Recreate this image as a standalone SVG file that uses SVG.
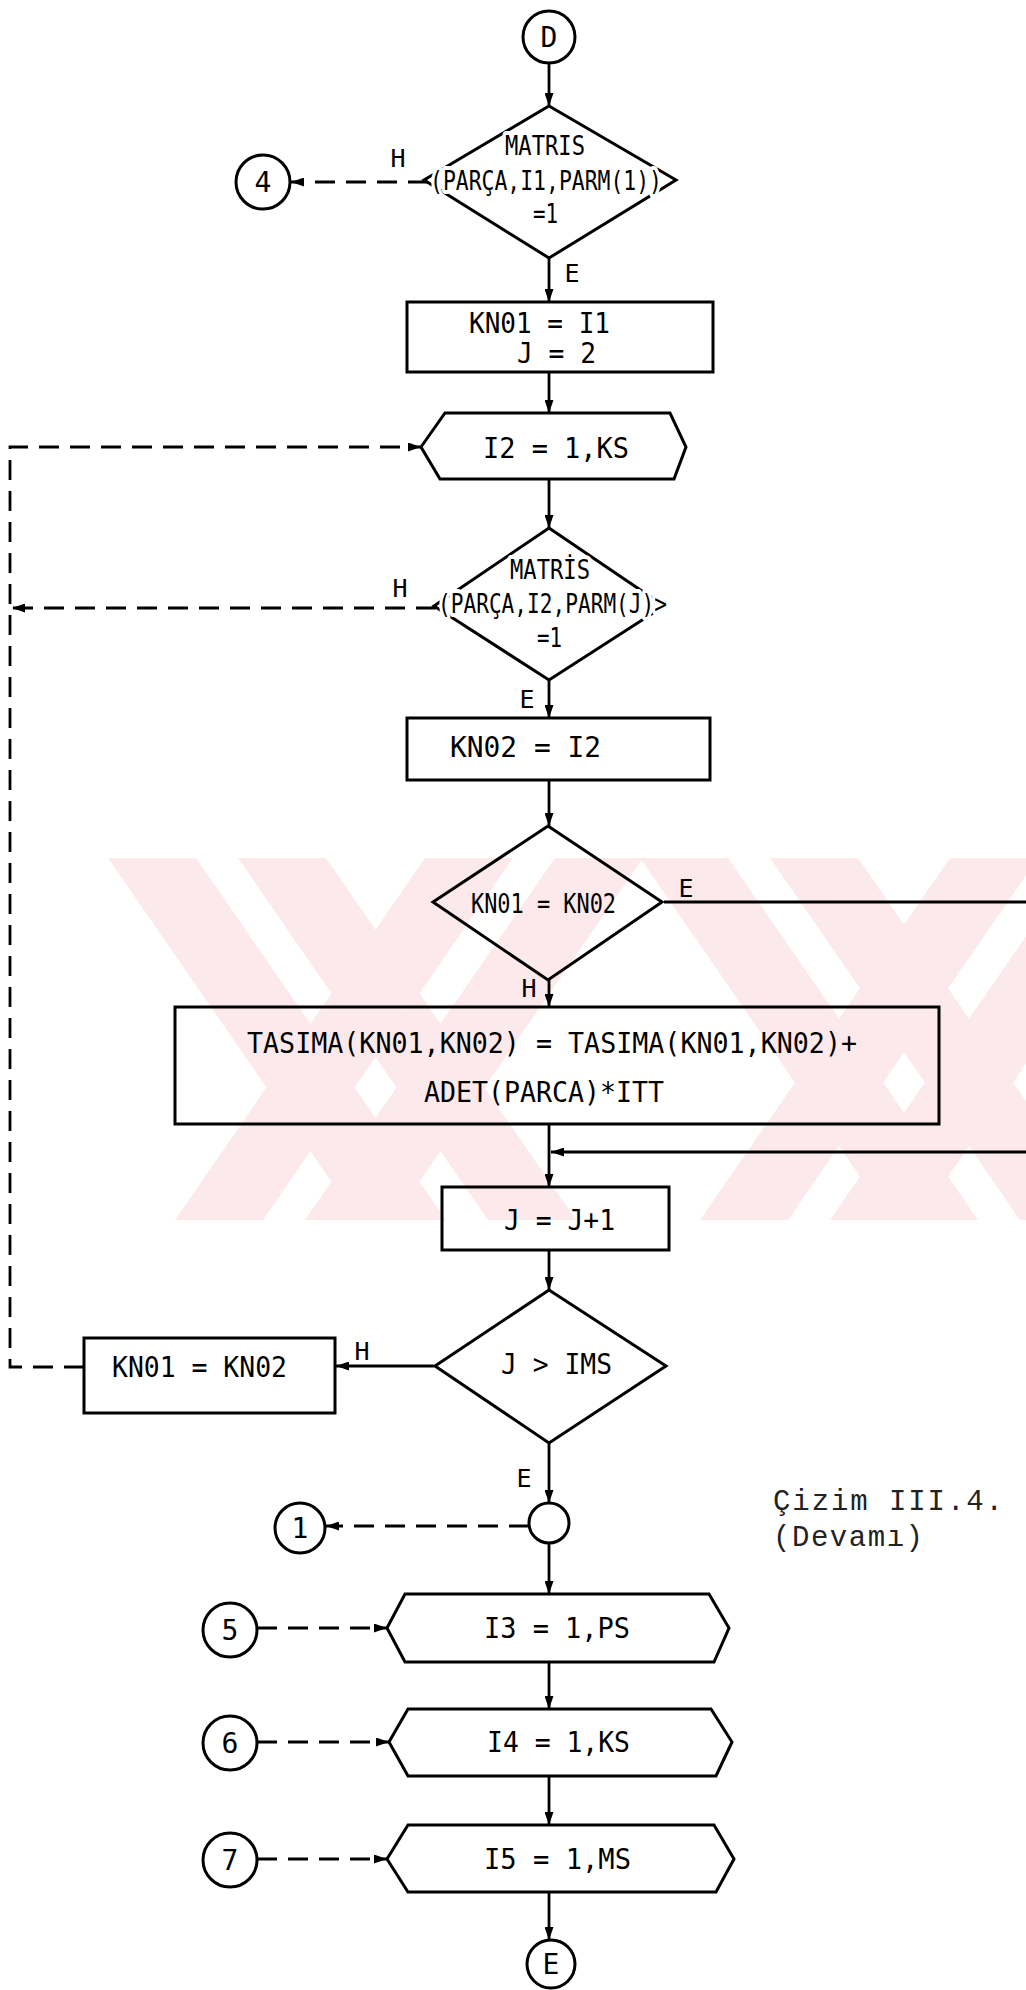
<svg xmlns="http://www.w3.org/2000/svg" width="1026" height="1990" viewBox="0 0 1026 1990">
  <style>
    .ln { fill: none; stroke: #000; stroke-width: 2.8; }
    .sh { fill: none; stroke: #000; stroke-width: 3; stroke-linejoin: miter; }
    .dash { stroke-dasharray: 20 11; }
    .t { font-family: "DejaVu Sans Mono", "Liberation Mono", monospace; fill: #000; }
    .halo { stroke: #fff; stroke-width: 8; stroke-linejoin: round; paint-order: stroke; }
    .cap { font-family: "Liberation Mono", "DejaVu Sans Mono", monospace; fill: #222; }
    .wm { fill: #fce9ec; }
  </style>
  <defs>
    <marker id="ah" markerUnits="userSpaceOnUse" markerWidth="13" markerHeight="9" refX="13" refY="4.5" orient="auto">
      <path d="M0,0 L13,4.5 L0,9 z" fill="#000"/>
    </marker>
    <clipPath id="band">
      <rect x="108" y="858" width="918" height="362"/>
    </clipPath>
  </defs>

  <rect width="1026" height="1990" fill="#fff"/>

  <!-- background stripe emblem -->
  <g id="emblem" clip-path="url(#band)" class="wm">
    <polygon points="108,858 196,858 446,1220 358,1220"/>
    <polygon points="238,858 326,858 576,1220 488,1220"/>
    <polygon points="175,1220 263,1220 513,858 425,858"/>
    <polygon points="305,1220 393,1220 643,858 555,858"/>
    <polygon points="640,858 728,858 978,1220 890,1220"/>
    <polygon points="770,858 858,858 1108,1220 1020,1220"/>
    <polygon points="700,1220 788,1220 1038,858 950,858"/>
    <polygon points="830,1220 918,1220 1168,858 1080,858"/>
  </g>

  <!-- connectors -->
  <g id="connectors">
    <path class="ln" d="M549 63 V106" marker-end="url(#ah)"/>
    <path class="ln dash" d="M428 182 H291" marker-end="url(#ah)"/>
    <path class="ln" d="M549 258 V302" marker-end="url(#ah)"/>
    <path class="ln" d="M549 372 V413" marker-end="url(#ah)"/>
    <path class="ln" d="M549 479 V528" marker-end="url(#ah)"/>
    <path class="ln dash" d="M436 608 H12" marker-end="url(#ah)"/>
    <path class="ln" d="M549 680 V718" marker-end="url(#ah)"/>
    <path class="ln" d="M549 780 V826" marker-end="url(#ah)"/>
    <path class="ln" d="M664 902 H1026"/>
    <path class="ln" d="M549 980 V1007" marker-end="url(#ah)"/>
    <path class="ln" d="M549 1124 V1187" marker-end="url(#ah)"/>
    <path class="ln" d="M1026 1152 H551" marker-end="url(#ah)"/>
    <path class="ln" d="M549 1250 V1290" marker-end="url(#ah)"/>
    <path class="ln" d="M434 1366 H336" marker-end="url(#ah)"/>
    <path class="ln dash" d="M84 1367 H10 V447 H421" marker-end="url(#ah)"/>
    <path class="ln" d="M549 1443 V1503" marker-end="url(#ah)"/>
    <path class="ln dash" d="M529 1526 H326" marker-end="url(#ah)"/>
    <path class="ln" d="M549 1543 V1594" marker-end="url(#ah)"/>
    <path class="ln dash" d="M257 1628 H387" marker-end="url(#ah)"/>
    <path class="ln" d="M549 1662 V1709" marker-end="url(#ah)"/>
    <path class="ln dash" d="M257 1742 H389" marker-end="url(#ah)"/>
    <path class="ln" d="M549 1776 V1825" marker-end="url(#ah)"/>
    <path class="ln dash" d="M257 1859 H387" marker-end="url(#ah)"/>
    <path class="ln" d="M549 1892 V1940" marker-end="url(#ah)"/>

    <text class="t" x="398" y="167" font-size="25" text-anchor="middle">H</text>
    <text class="t" x="572" y="282" font-size="25" text-anchor="middle">E</text>
    <text class="t" x="400" y="597" font-size="25" text-anchor="middle">H</text>
    <text class="t" x="527" y="708" font-size="25" text-anchor="middle">E</text>
    <text class="t" x="686" y="897" font-size="25" text-anchor="middle">E</text>
    <text class="t" x="529" y="997" font-size="25" text-anchor="middle">H</text>
    <text class="t" x="362" y="1360" font-size="25" text-anchor="middle">H</text>
    <text class="t" x="524" y="1487" font-size="25" text-anchor="middle">E</text>
  </g>

  <g id="start-D">
    <circle class="sh" cx="549" cy="37" r="26"/>
    <text class="t" x="549" y="47" font-size="28" text-anchor="middle">D</text>
  </g>

  <g id="test-matris-1">
    <polygon class="sh" points="549,106 676,180 549,258 424,180"/>
    <text class="t halo" x="505" y="155" font-size="27" textLength="80" lengthAdjust="spacingAndGlyphs">MATRIS</text>
    <text class="t halo" x="430" y="190" font-size="27" textLength="232" lengthAdjust="spacingAndGlyphs">(PARÇA,I1,PARM(1))</text>
    <text class="t halo" x="533" y="223" font-size="26" textLength="25" lengthAdjust="spacingAndGlyphs">=1</text>
  </g>

  <g id="conn-4">
    <circle class="sh" cx="263" cy="182" r="27"/>
    <text class="t" x="263" y="192" font-size="28" text-anchor="middle">4</text>
  </g>

  <g id="set-kn01">
    <rect class="sh" x="407" y="302" width="306" height="70"/>
    <text class="t" x="469" y="333" font-size="28" textLength="141" lengthAdjust="spacingAndGlyphs">KN01 = I1</text>
    <text class="t" x="517" y="363" font-size="28" textLength="79" lengthAdjust="spacingAndGlyphs">J = 2</text>
  </g>

  <g id="loop-i2">
    <polygon class="sh" points="421,447 445,413 670,413 686,447 674,479 440,479"/>
    <text class="t" x="483" y="458" font-size="28" textLength="146" lengthAdjust="spacingAndGlyphs">I2 = 1,KS</text>
  </g>

  <g id="test-matris-2">
    <polygon class="sh" points="549,528 664,606 549,680 434,606"/>
    <text class="t halo" x="510" y="579" font-size="27" textLength="80" lengthAdjust="spacingAndGlyphs">MATRİS</text>
    <text class="t halo" x="438" y="613" font-size="27" textLength="229" lengthAdjust="spacingAndGlyphs">(PARÇA,I2,PARM(J)&gt;</text>
    <text class="t halo" x="537" y="647" font-size="26" textLength="25" lengthAdjust="spacingAndGlyphs">=1</text>
  </g>

  <g id="set-kn02">
    <rect class="sh" x="407" y="718" width="303" height="62"/>
    <text class="t" x="450" y="757" font-size="28" textLength="151" lengthAdjust="spacingAndGlyphs">KN02  =  I2</text>
  </g>

  <g id="test-equal">
    <polygon class="sh" points="548,826 662,902 548,980 433,902"/>
    <text class="t" x="471" y="913" font-size="27" textLength="145" lengthAdjust="spacingAndGlyphs">KN01 = KN02</text>
  </g>

  <g id="update-tasima">
    <rect class="sh" x="175" y="1007" width="764" height="117"/>
    <text class="t" x="247" y="1053" font-size="28" textLength="610" lengthAdjust="spacingAndGlyphs">TASIMA(KN01,KN02) = TASIMA(KN01,KN02)+</text>
    <text class="t" x="424" y="1102" font-size="28" textLength="240" lengthAdjust="spacingAndGlyphs">ADET(PARCA)*ITT</text>
  </g>

  <g id="inc-j">
    <rect class="sh" x="442" y="1187" width="227" height="63"/>
    <text class="t" x="504" y="1230" font-size="28" textLength="111" lengthAdjust="spacingAndGlyphs">J = J+1</text>
  </g>

  <g id="test-j">
    <polygon class="sh" points="549,1290 666,1366 549,1443 435,1366"/>
    <text class="t" x="501" y="1374" font-size="28" textLength="111" lengthAdjust="spacingAndGlyphs">J &gt; IMS</text>
  </g>

  <g id="shift-kn">
    <rect class="sh" x="84" y="1338" width="251" height="75"/>
    <text class="t" x="112" y="1377" font-size="28" textLength="175" lengthAdjust="spacingAndGlyphs">KN01 = KN02</text>
  </g>

  <g id="join">
    <circle class="sh" cx="549" cy="1523" r="20"/>
  </g>

  <g id="conn-1">
    <circle class="sh" cx="300" cy="1528" r="25"/>
    <text class="t" x="300" y="1538" font-size="28" text-anchor="middle">1</text>
  </g>

  <g id="loop-i3">
    <polygon class="sh" points="387,1628 405,1594 709,1594 729,1628 714,1662 405,1662"/>
    <text class="t" x="484" y="1638" font-size="28" textLength="146" lengthAdjust="spacingAndGlyphs">I3 = 1,PS</text>
  </g>
  <g id="conn-5">
    <circle class="sh" cx="230" cy="1630" r="27"/>
    <text class="t" x="230" y="1640" font-size="28" text-anchor="middle">5</text>
  </g>

  <g id="loop-i4">
    <polygon class="sh" points="389,1742 408,1709 711,1709 732,1742 716,1776 408,1776"/>
    <text class="t" x="487" y="1752" font-size="28" textLength="143" lengthAdjust="spacingAndGlyphs">I4 = 1,KS</text>
  </g>
  <g id="conn-6">
    <circle class="sh" cx="230" cy="1743" r="27"/>
    <text class="t" x="230" y="1753" font-size="28" text-anchor="middle">6</text>
  </g>

  <g id="loop-i5">
    <polygon class="sh" points="387,1859 408,1825 714,1825 734,1859 716,1892 408,1892"/>
    <text class="t" x="484" y="1869" font-size="28" textLength="147" lengthAdjust="spacingAndGlyphs">I5 = 1,MS</text>
  </g>
  <g id="conn-7">
    <circle class="sh" cx="230" cy="1860" r="27"/>
    <text class="t" x="230" y="1870" font-size="28" text-anchor="middle">7</text>
  </g>

  <g id="end-E">
    <circle class="sh" cx="551" cy="1964" r="24"/>
    <text class="t" x="551" y="1974" font-size="28" text-anchor="middle">E</text>
  </g>

  <g id="caption">
    <text class="cap" x="773" y="1510" font-size="29" textLength="230" lengthAdjust="spacing">Çizim III.4.</text>
    <text class="cap" x="773" y="1546" font-size="29" textLength="150" lengthAdjust="spacing">(Devamı)</text>
  </g>
</svg>
